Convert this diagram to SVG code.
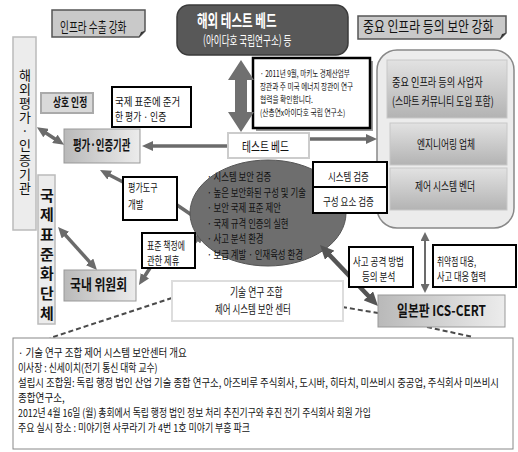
<svg xmlns="http://www.w3.org/2000/svg" width="518" height="452" viewBox="0 0 518 452">
<defs>
<style>
text{font-family:"Noto Sans CJK KR","Noto Sans",sans-serif;fill:#111}
.w{fill:#fff}
.b{font-weight:bold}
.wb{fill:#fff;stroke:#000;stroke-width:2}
.gl{stroke:#6b6b6b;stroke-width:3.5;fill:none}
.dash{stroke:#4a4a4a;stroke-width:2;stroke-dasharray:5 3;fill:none}
.vt{writing-mode:vertical-rl;text-orientation:upright}
</style>
<linearGradient id="gH" x1="0" y1="0" x2="1" y2="0"><stop offset="0" stop-color="#b9b9b9"/><stop offset="1" stop-color="#ececec"/></linearGradient>
<linearGradient id="gV" x1="0" y1="0" x2="0" y2="1"><stop offset="0" stop-color="#e2e2e2"/><stop offset="1" stop-color="#b3b3b3"/></linearGradient>
<marker id="ah" viewBox="0 0 11 10" refX="3" refY="5" markerWidth="11" markerHeight="10" markerUnits="userSpaceOnUse" orient="auto-start-reverse"><path d="M0,0 L11,5 L0,10 z" fill="#6b6b6b"/></marker>
<marker id="ahb" viewBox="0 0 14 13" refX="4" refY="6.5" markerWidth="14" markerHeight="13" markerUnits="userSpaceOnUse" orient="auto-start-reverse"><path d="M0,0 L14,6.5 L0,13 z" fill="#555"/></marker>
<marker id="ahs" viewBox="0 0 9 9" refX="3" refY="4.5" markerWidth="9" markerHeight="9" markerUnits="userSpaceOnUse" orient="auto-start-reverse"><path d="M0,0 L9,4.5 L0,9 z" fill="#6b6b6b"/></marker>
</defs>
<rect width="518" height="452" fill="#fff"/>

<g id="infra-export">
<path d="M52,10 H145 V31 L139,37 H52 Z" fill="#c9c9c9" stroke="#555" stroke-width="1.5"/>
<path d="M145,31 L139,37 L141,32 Z" fill="#333"/>
<text transform="translate(60,32) scale(0.69,1)" font-size="14">인프라 수출 강화</text>
</g>

<g id="overseas-testbed">
<rect x="177" y="5" width="171" height="50" rx="12" fill="#585858" stroke="#3a3a3a" stroke-width="1.5"/>
<text transform="translate(197,27) scale(0.68,1)" font-size="17" class="w b">해외 테스트 베드</text>
<text transform="translate(203,45) scale(0.66,1)" font-size="13" class="w">(아이다호 국립연구소) 등</text>
</g>

<g id="infra-security">
<path d="M358,16 H506 V33 L500,39 H358 Z" fill="#c9c9c9" stroke="#555" stroke-width="1.5"/>
<path d="M506,33 L500,39 L502,34 Z" fill="#333"/>
<text transform="translate(363,32) scale(0.79,1)" font-size="15">중요 인프라 등의 보안 강화</text>
</g>

<g id="overseas-cert">
<rect x="13" y="37" width="23" height="193" fill="#ececec" stroke="#bbb" stroke-width="1.5"/>
<text x="25" y="68.5" font-size="13" class="vt" letter-spacing="1.1">해외평가·인증기관</text>
</g>

<g id="intl-std-body">
<rect x="38" y="175" width="17" height="149" fill="#ececec" stroke="#bbb" stroke-width="1.5"/>
<text x="47" y="187.5" font-size="15" class="vt b" letter-spacing="4.7">국제표준화단체</text>
</g>

<g id="mutual-recognition">
<rect x="41" y="93" width="52" height="20" fill="#d9d9d9" stroke="#aaa" stroke-width="2"/>
<text transform="translate(53,107) scale(0.73,1)" font-size="12" class="b">상호 인정</text>
</g>

<g id="intl-std-cert">
<rect x="112" y="87" width="79" height="40" class="wb"/>
<text transform="translate(115,106) scale(0.86,1)" font-size="11">국제 표준에 준거</text>
<text transform="translate(115,121) scale(0.8,1)" font-size="11">한 평가 · 인증</text>
</g>

<g id="cert-body">
<rect x="64" y="129" width="76" height="34" fill="url(#gH)" stroke="#999" stroke-width="1"/>
<text transform="translate(73,150) scale(0.67,1)" font-size="14" class="b">평가·인증기관</text>
</g>

<g id="note">
<rect x="256" y="61" width="117" height="70" fill="#999"/>
<rect x="253" y="58" width="117" height="70" fill="#fff" stroke="#000" stroke-width="2.5"/>
<g font-size="9">
<text transform="translate(260,77) scale(0.73,1)">· 2011년 9월, 마키노 경제산업부</text>
<text transform="translate(260,90) scale(0.74,1)">장관과 주 미국 에너지 장관이 연구</text>
<text transform="translate(260,103) scale(0.75,1)">협력을 확인합니다.</text>
<text transform="translate(260,116) scale(0.75,1)">(산총연x아이다호 국립 연구소)</text>
</g>
</g>

<g id="container">
<rect x="377" y="50" width="137" height="178" rx="20" fill="#ececec" stroke="#888" stroke-width="1.5"/>
</g>
<g id="operators">
<rect x="387" y="60" width="120" height="58" fill="url(#gV)" stroke="#c8c8c8" stroke-width="1"/>
<text transform="translate(392,87) scale(0.766,1)" font-size="12">중요 인프라 등의 사업자</text>
<text transform="translate(392,106) scale(0.74,1)" font-size="12">(스마트 커뮤니티 도입 포함)</text>
</g>
<g id="engineering">
<rect x="390" y="123" width="117" height="42" fill="url(#gV)" stroke="#c8c8c8" stroke-width="1"/>
<text transform="translate(417,149) scale(0.727,1)" font-size="12">엔지니어링 업체</text>
</g>
<g id="vendor">
<rect x="390" y="168" width="117" height="42" fill="url(#gV)" stroke="#c8c8c8" stroke-width="1"/>
<text transform="translate(415,191) scale(0.727,1)" font-size="12">제어 시스템 벤더</text>
</g>

<g id="connectors">
<polygon points="241,60 254,80 247,80 247,112 254,112 241,132 228,112 235,112 235,80 228,80" fill="#707070"/>
<line x1="43.6" y1="131.5" x2="57.4" y2="140.5" class="gl" marker-start="url(#ah)" marker-end="url(#ah)"/>
<line x1="228" y1="146" x2="150" y2="146" class="gl" marker-end="url(#ah)"/>
<line x1="310" y1="139" x2="369" y2="139" class="gl" marker-end="url(#ah)"/>
<line x1="123" y1="182" x2="107.1" y2="173.7" class="gl" marker-end="url(#ah)"/>
<line x1="177" y1="205" x2="195.4" y2="217.5" class="gl" marker-end="url(#ah)"/>
<line x1="194" y1="243" x2="198.6" y2="237.9" class="gl" marker-end="url(#ah)"/>
<line x1="150" y1="268" x2="143.3" y2="278.3" class="gl" marker-end="url(#ah)"/>
<line x1="63.4" y1="232.9" x2="91.6" y2="264.1" class="gl" marker-start="url(#ah)" marker-end="url(#ah)"/>
<line x1="425" y1="238" x2="425" y2="287" stroke="#6b6b6b" stroke-width="2" marker-start="url(#ahs)" marker-end="url(#ahs)"/>
<path d="M172,298 L50,338" class="dash"/>
<path d="M342,307 L378,313" class="dash"/>
<path d="M427,327 L473,337" class="dash"/>
</g>

<g id="testbed">
<rect x="228" y="133" width="81" height="25" fill="#fff" stroke="#ccc" stroke-width="2"/>
<text transform="translate(242,151) scale(0.75,1)" font-size="13">테스트 베드</text>
</g>

<g id="activities">
<ellipse cx="268" cy="213" rx="78" ry="53" fill="#6e6e6e" stroke="#555" stroke-width="1"/>
<g font-size="11.5" class="w">
<text transform="translate(207,181) scale(0.73,1)">· 시스템 보안 검증</text>
<text transform="translate(207,196.5) scale(0.73,1)">· 높은 보안화된 구성 및 기술</text>
<text transform="translate(207,212) scale(0.73,1)">· 보안 국제 표준 제안</text>
<text transform="translate(207,227.5) scale(0.73,1)">· 국제 규격 인증의 실현</text>
<text transform="translate(207,243) scale(0.73,1)">· 사고 분석 환경</text>
<text transform="translate(207,258.5) scale(0.73,1)">· 보급 계발 · 인재육성 환경</text>
</g>
</g>

<g id="connector-ics">
<line x1="326.9" y1="252.3" x2="371.1" y2="298.7" stroke="#555" stroke-width="4.5" marker-start="url(#ahb)" marker-end="url(#ahb)"/>
</g>

<g id="system-verify">
<rect x="313" y="162" width="74" height="25" class="wb"/>
<text transform="translate(328,181) scale(0.77,1)" font-size="11">시스템 검증</text>
</g>
<g id="component-verify">
<rect x="313" y="187" width="74" height="26" class="wb"/>
<text transform="translate(323,206) scale(0.775,1)" font-size="11">구성 요소 검증</text>
</g>

<g id="tool-dev">
<rect x="123" y="177" width="54" height="43" class="wb"/>
<text transform="translate(128,192) scale(0.73,1)" font-size="11">평가도구</text>
<text transform="translate(128,209) scale(0.77,1)" font-size="11">개발</text>
</g>

<g id="std-partnership">
<rect x="142" y="233" width="53" height="35" class="wb"/>
<text transform="translate(147,250) scale(0.714,1)" font-size="11">표준 책정에</text>
<text transform="translate(147,265) scale(0.754,1)" font-size="11">관한 제휴</text>
</g>

<g id="domestic-committee">
<rect x="64" y="270" width="72" height="31" fill="url(#gH)" stroke="#999" stroke-width="1"/>
<text transform="translate(70,290) scale(0.79,1)" font-size="15" class="b">국내 위원회</text>
</g>

<g id="security-center">
<rect x="172" y="281" width="171" height="40" fill="#fff" stroke="#ddd" stroke-width="2"/>
<text transform="translate(230,297) scale(0.736,1)" font-size="12">기술 연구 조합</text>
<text transform="translate(215,314) scale(0.707,1)" font-size="12">제어 시스템 보안 센터</text>
</g>

<g id="attack-analysis">
<rect x="349" y="247" width="64" height="40" class="wb"/>
<text transform="translate(353,266) scale(0.775,1)" font-size="11">사고 공격 방법</text>
<text transform="translate(362,281) scale(0.776,1)" font-size="11">등의 분석</text>
</g>

<g id="vuln-response">
<rect x="433" y="245" width="83" height="42" class="wb"/>
<text transform="translate(437,266) scale(0.7,1)" font-size="11">취약점 대응,</text>
<text transform="translate(437,281) scale(0.747,1)" font-size="11">사고 대응 협력</text>
</g>

<g id="ics-cert">
<rect x="378" y="295" width="127" height="32" fill="url(#gH)" stroke="#999" stroke-width="1"/>
<text transform="translate(397,316) scale(0.79,1)" font-size="15" class="b">일본판 ICS-CERT</text>
</g>

<g id="overview">
<rect x="13" y="338" width="500" height="111" fill="#fff" stroke="#888" stroke-width="1"/>
<g font-size="11">
<text transform="translate(18,357) scale(0.865,1)">· 기술 연구 조합 제어 시스템 보안센터 개요</text>
<text transform="translate(18,372) scale(0.8,1)">이사장 : 신세이치(전기 통신 대학 교수)</text>
<text transform="translate(18,387) scale(0.854,1)">설립시 조합원: 독립 행정 법인 산업 기술 종합 연구소, 아즈비루 주식회사, 도시바, 히타치, 미쓰비시 중공업, 주식회사 미쓰비시</text>
<text transform="translate(18,402) scale(0.87,1)">종합연구소,</text>
<text transform="translate(18,417) scale(0.8,1)">2012년 4월 16일 (월) 총회에서 독립 행정 법인 정보 처리 추진기구와 후진 전기 주식회사 회원 가입</text>
<text transform="translate(18,432) scale(0.815,1)">주요 실시 장소 : 미야기현 사쿠라기 가 4번 1호 미야기 부흥 파크</text>
</g>
</g>
</svg>
